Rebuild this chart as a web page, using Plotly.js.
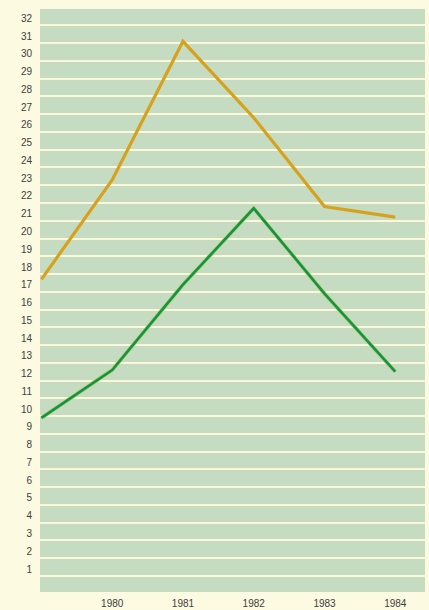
<!DOCTYPE html>
<html>
<head>
<meta charset="utf-8">
<script src="https://cdn.plot.ly/plotly-3.0.1.min.js"></script>
<style>
html,body{margin:0;padding:0;background:#fcfae0;}
#chart{width:429px;height:610px;}
</style>
</head>
<body>
<div id="chart"></div>
<script>
var years = [1979, 1980, 1981, 1982, 1983, 1984];
var orangeSeries = [17.7, 23.3, 31.1, 26.8, 21.8, 21.2];
var greenSeries = [9.9, 12.6, 17.4, 21.7, 16.9, 12.5];
var xTickVals = [1980, 1981, 1982, 1983, 1984];
var xTickText = ['1980', '1981', '1982', '1983', '1984'];
var yTickVals = [];
for (var i = 1; i <= 32; i++) yTickVals.push(i);

var traces = [
  {x: years, y: orangeSeries, mode: 'lines', line: {color: '#d6a21c', width: 3.2}, hoverinfo: 'skip'},
  {x: years, y: greenSeries, mode: 'lines', line: {color: '#b9d63a', width: 4}, hoverinfo: 'skip'},
  {x: years, y: greenSeries, mode: 'lines', line: {color: '#11905e', width: 2.6}, hoverinfo: 'skip'}
];

var layout = {
  width: 429, height: 610,
  margin: {l: 40, r: 4, t: 9, b: 18},
  paper_bgcolor: '#fcfae0',
  plot_bgcolor: '#c5dcc3',
  showlegend: false,
  font: {family: 'Liberation Sans, Arial, sans-serif', size: 10, color: '#404040'},
  xaxis: {
    range: [1978.98, 1984.42],
    tickvals: xTickVals, ticktext: xTickText,
    showgrid: false, zeroline: false, showline: false, ticks: '',
    ticklabelstandoff: 4,
    tickfont: {size: 10, color: '#404040'}
  },
  yaxis: {
    range: [0.1, 32.92],
    tickvals: yTickVals,
    showgrid: true, gridcolor: '#fbf7d8', gridwidth: 2,
    zeroline: false, showline: false, ticks: '',
    ticklabelposition: 'outside top',
    ticklabelstandoff: 7,
    tickfont: {size: 10, color: '#404040'}
  }
};

Plotly.newPlot('chart', traces, layout, {staticPlot: true, displayModeBar: false});
</script>
</body>
</html>
